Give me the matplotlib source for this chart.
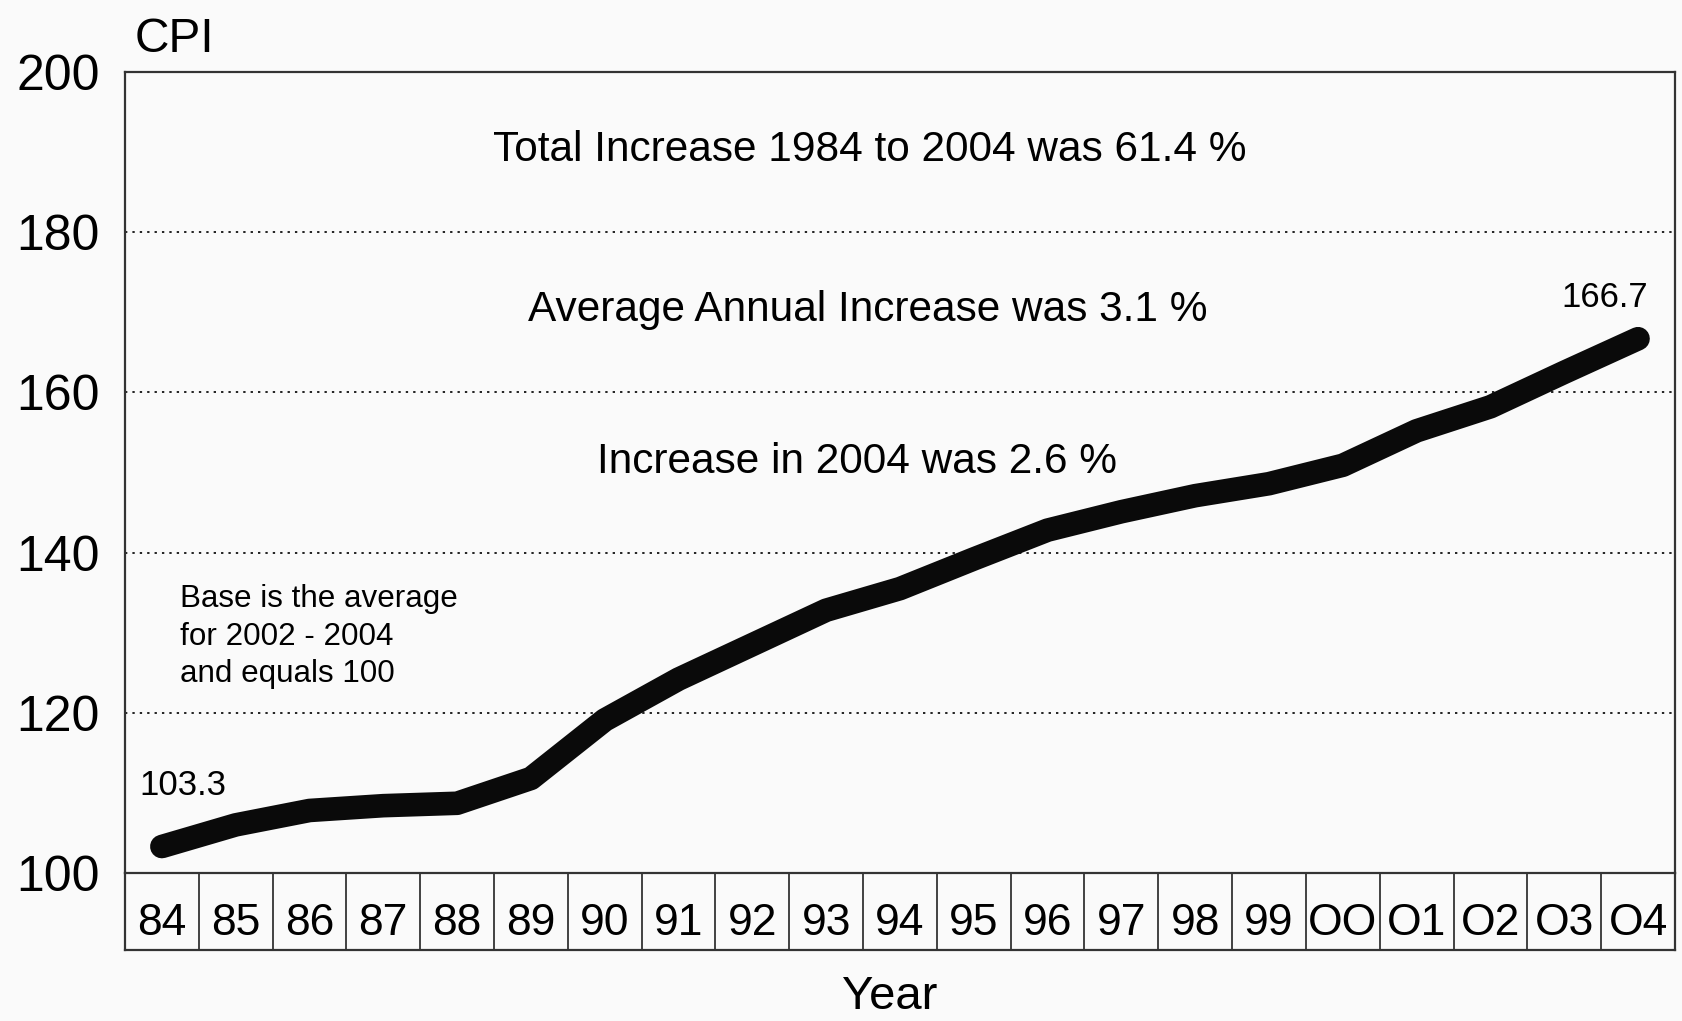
import matplotlib.pyplot as plt

plt.rcParams['font.family'] = ['Liberation Sans', 'DejaVu Sans']

# data
years = ['84', '85', '86', '87', '88', '89', '90', '91', '92', '93', '94',
         '95', '96', '97', '98', '99', 'OO', 'O1', 'O2', 'O3', 'O4']
cpi = [103.3, 106.0, 107.8, 108.4, 108.7, 111.8, 119.1, 124.2, 128.5, 132.8,
       135.5, 139.2, 142.8, 145.1, 147.1, 148.6, 150.9, 155.2, 158.2, 162.5, 166.7]
y_ticks = [100, 120, 140, 160, 180, 200]
notes = ['Total Increase 1984 to 2004 was 61.4 %',
         'Average Annual Increase was 3.1 %',
         'Increase in 2004 was 2.6 %']
base_note = 'Base is the average\nfor 2002 - 2004\nand equals 100'

bg = '#fafafa'
fig = plt.figure(figsize=(16.82, 10.21), dpi=100, facecolor=bg)

# main plot area and the year table below it
ax = fig.add_axes([0.0743, 0.1450, 0.9215, 0.7845], facecolor=bg)
tab = fig.add_axes([0.0743, 0.0695, 0.9215, 0.0754], facecolor=bg)

x = list(range(len(years)))
ax.plot(x, cpi, color='#0a0a0a', lw=17, solid_capstyle='round',
        solid_joinstyle='round', zorder=3)

ax.set_xlim(-0.5, len(years) - 0.5)
ax.set_ylim(100, 200)
for v in y_ticks[1:-1]:
    ax.axhline(v, color='#222222', lw=1.4, ls=(0, (1.2, 2.6)), zorder=1)

ax.set_xticks([])
ax.set_yticks(y_ticks)
ax.set_yticklabels([str(v) for v in y_ticks], fontsize=36)
ax.tick_params(axis='y', length=0, pad=18)
for s in ['top', 'left', 'right']:
    ax.spines[s].set_linewidth(1.6)
    ax.spines[s].set_color('#333333')
ax.spines['bottom'].set_visible(False)

ax.text(0.006, 1.040, 'CPI', transform=ax.transAxes, fontsize=34.5,
        ha='left', va='center')

note_x = [9.59, 9.57, 9.42]
note_y = [190.3, 170.3, 151.3]
for t, xx, yy in zip(notes, note_x, note_y):
    ax.text(xx, yy, t, fontsize=30.5, ha='center', va='center')

ax.text(0.25, 129.5, base_note, fontsize=22.6, ha='left', va='center',
        linespacing=1.33)
ax.text(-0.31, 110.9, '103.3', fontsize=25, ha='left', va='center')
ax.text(18.96, 171.9, '166.7', fontsize=25, ha='left', va='center')

# year table
tab.set_xlim(-0.5, len(years) - 0.5)
tab.set_ylim(0, 1)
for i in range(len(years) + 1):
    tab.axvline(i - 0.5, color='#333333', lw=1.3)
for i, lab in enumerate(years):
    tab.text(i, 0.35, lab, fontsize=32, ha='center', va='center')
tab.set_xticks([])
tab.set_yticks([])
for s in tab.spines.values():
    s.set_linewidth(1.6)
    s.set_color('#333333')

fig.text(0.529, 0.002, 'Year', fontsize=34, ha='center', va='bottom')

fig.savefig('out.png', dpi=100, facecolor=bg)
